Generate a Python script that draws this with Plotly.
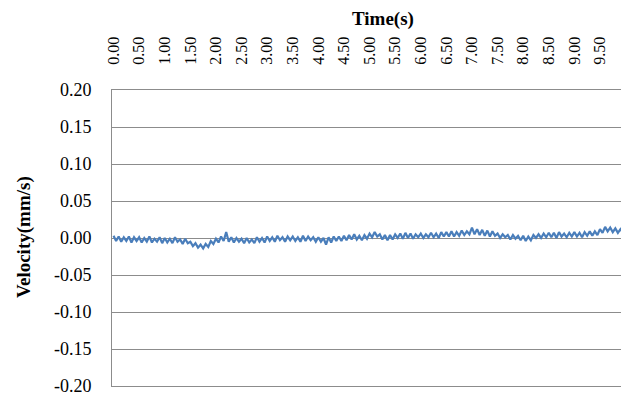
import plotly.graph_objects as go

time_step = 0.05
velocity = [
    0.003, -0.004, 0.002, -0.005, 0.001, -0.004, 0.002, -0.006, 0.001, -0.004,
    0.001, -0.006, 0.000, -0.005, 0.002, -0.006, -0.001, -0.005, 0.001, -0.007,
    0.000, -0.006, -0.001, -0.007, 0.001, -0.005, -0.002, -0.008, -0.001, -0.007,
    -0.005, -0.011, -0.007, -0.013, -0.009, -0.014, -0.008, -0.012, -0.004, -0.008,
    -0.001, -0.006, 0.002, -0.004, 0.008, -0.005, 0.001, -0.006, 0.000, -0.005,
    -0.001, -0.007, 0.000, -0.006, -0.002, -0.007, 0.001, -0.005, 0.000, -0.006,
    0.002, -0.004, 0.001, -0.005, 0.003, -0.003, 0.001, -0.005, 0.002, -0.003,
    0.002, -0.004, 0.001, -0.005, 0.003, -0.004, 0.002, -0.003, 0.001, -0.005,
    0.001, -0.005, 0.000, -0.009, 0.001, -0.006, 0.002, -0.004, 0.002, -0.004,
    0.003, -0.003, 0.004, -0.002, 0.005, -0.002, 0.003, -0.003, 0.004, -0.001,
    0.006, 0.001, 0.008, 0.002, 0.005, -0.002, 0.004, -0.003, 0.004, -0.002,
    0.005, 0.000, 0.006, -0.001, 0.007, 0.000, 0.006, -0.001, 0.005, 0.001,
    0.006, 0.000, 0.005, 0.001, 0.007, 0.001, 0.006, 0.000, 0.008, 0.002,
    0.008, 0.002, 0.009, 0.002, 0.008, 0.003, 0.010, 0.004, 0.009, 0.005,
    0.014, 0.005, 0.012, 0.004, 0.011, 0.003, 0.010, 0.002, 0.009, 0.003,
    0.006, 0.000, 0.005, 0.001, 0.004, -0.002, 0.004, -0.001, 0.003, -0.003,
    0.003, -0.004, 0.002, -0.003, 0.004, 0.000, 0.005, 0.000, 0.006, 0.001,
    0.007, 0.001, 0.007, 0.000, 0.008, 0.002, 0.006, 0.001, 0.007, 0.002,
    0.008, 0.002, 0.007, 0.001, 0.008, 0.003, 0.009, 0.003, 0.009, 0.004,
    0.012, 0.007, 0.015, 0.009, 0.014, 0.008, 0.013, 0.007, 0.012, 0.007,
    0.010,
]
time = [round(i * time_step, 2) for i in range(len(velocity))]

x_tick_values = [0.0, 0.5, 1.0, 1.5, 2.0, 2.5, 3.0, 3.5, 4.0, 4.5,
                 5.0, 5.5, 6.0, 6.5, 7.0, 7.5, 8.0, 8.5, 9.0, 9.5]
x_tick_labels = [f"{v:.2f}" for v in x_tick_values]
y_tick_values = [0.20, 0.15, 0.10, 0.05, 0.00, -0.05, -0.10, -0.15, -0.20]
y_tick_labels = [f"{v:.2f}" for v in y_tick_values]

font_family = "Liberation Serif, Times New Roman, serif"

fig = go.Figure()
fig.add_trace(go.Scatter(
    x=time, y=velocity, mode="lines",
    line=dict(color="#4a7ebb", width=2.2),
    showlegend=False,
))

# the page body has an 8px default margin, so the figure is made 8px smaller
fig.update_layout(
    width=621, height=386,
    margin=dict(l=104, r=7, t=82, b=8),
    paper_bgcolor="white", plot_bgcolor="white",
    font=dict(family=font_family, size=16, color="#000000"),
    xaxis=dict(
        side="top", range=[-0.03, 9.93], automargin=False,
        tickmode="array", tickvals=x_tick_values, ticktext=x_tick_labels,
        tickangle=-90, showgrid=False, zeroline=False,
        showline=True, mirror=True, linecolor="#8c8c8c", linewidth=1,
        ticks="", ticklabelstandoff=21,
        tickfont=dict(family=font_family, size=16),
    ),
    yaxis=dict(
        range=[-0.20, 0.20], automargin=False,
        tickmode="array", tickvals=y_tick_values, ticktext=y_tick_labels,
        showgrid=True, gridcolor="#8c8c8c", gridwidth=1,
        zeroline=False, showline=True, linecolor="#8c8c8c", linewidth=1,
        ticks="", ticklabelstandoff=16, ticklabeloverflow="allow",
        tickfont=dict(family=font_family, size=18),
    ),
    annotations=[
        dict(text="<b>Time(s)</b>", xref="paper", yref="paper",
             x=(383 - 112) / 510, y=1, yshift=71, showarrow=False,
             xanchor="center", yanchor="middle",
             font=dict(family=font_family, size=19)),
        dict(text="<b>Velocity(mm/s)</b>", xref="paper", yref="paper",
             x=0, xshift=-88, y=(386 - 237) / 296, showarrow=False,
             textangle=-90, xanchor="center", yanchor="middle",
             font=dict(family=font_family, size=19)),
    ],
)

fig.write_html("out.html")
